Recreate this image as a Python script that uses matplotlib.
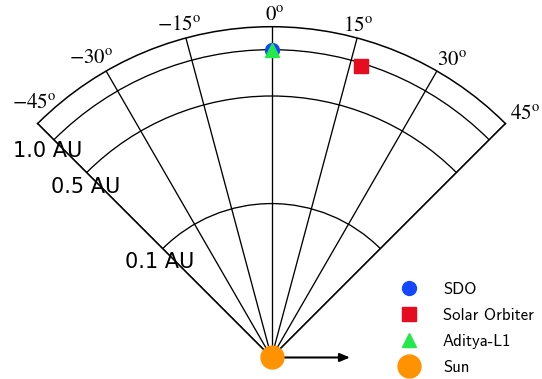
import numpy as np
import matplotlib
matplotlib.use("Agg")
import matplotlib.pyplot as plt
from matplotlib.ticker import NullLocator
from matplotlib.transforms import ScaledTranslation
from matplotlib.font_manager import FontProperties

plt.rcParams["mathtext.fontset"] = "stix"

# Spacecraft positions (heliocentric angle in degrees, distance in AU)
names = ["SDO", "Solar Orbiter", "Aditya-L1"]
theta_deg = [0.0, 17.0, 0.0]
dist_au = [1.0, 0.96, 0.99]
markers = ["o", "s", "^"]
colors = ["#1447ff", "#e60d20", "#25e84a"]
sun_color = "#ff9200"

# Grid definition
ring_au = [0.1, 0.5, 1.0]
ring_labels = ["0.1 AU", "0.5 AU", "1.0 AU"]
angle_ticks = [-45, -30, -15, 0, 15, 30, 45]
angle_labels = [r"$-45^{\mathrm{o}}$", r"$-30^{\mathrm{o}}$", r"$-15^{\mathrm{o}}$",
                r"$0^{\mathrm{o}}$", r"$15^{\mathrm{o}}$", r"$30^{\mathrm{o}}$",
                r"$45^{\mathrm{o}}$"]
# label nudges in pixels (x, y)
angle_nudge = [(-3, 12), (-15, 3), (-7, 4), (3, 2), (1, 3), (15, 1), (20, 1)]
ring_nudge = [(-3, -3), (-1, -4), (-6, -1)]

r_min, r_max = 0.01, 1.41

fig = plt.figure(figsize=(5.42, 3.79), dpi=100)
# square box: the wedge is fitted into it and centred
ax = fig.add_axes([0.0694, -0.124, 0.8631, 1.2343], projection="polar")
ax.set_theta_zero_location("N")
ax.set_theta_direction(-1)
ax.set_thetamin(-45)
ax.set_thetamax(45)
ax.set_rscale("log")
ax.set_rlim(r_min, r_max)
ax.set_yticks(ring_au)
ax.set_yticklabels([])
ax.yaxis.set_minor_locator(NullLocator())
ax.set_xticks(np.deg2rad(angle_ticks))
ax.set_xticklabels([])
ax.tick_params(length=0)
ax.grid(True, color="black", lw=0.95)
for sp in ax.spines.values():
    sp.set_color("black")
    sp.set_linewidth(1.1)

px = 1.0 / fig.dpi
for a, lab, (dx, dy) in zip(angle_ticks, angle_labels, angle_nudge):
    ax.text(np.deg2rad(a), r_max, lab, ha="center", va="bottom", fontsize=15,
            clip_on=False,
            transform=ax.transData + ScaledTranslation(dx * px, dy * px, fig.dpi_scale_trans))

for r, lab, (dx, dy) in zip(ring_au, ring_labels, ring_nudge):
    ax.text(np.deg2rad(-45), r, lab, ha="center", va="top", fontsize=15,
            family="DejaVu Sans", clip_on=False, zorder=4,
            transform=ax.transData + ScaledTranslation(dx * px, dy * px, fig.dpi_scale_trans))

for n, th, r, m, c in zip(names, theta_deg, dist_au, markers, colors):
    ax.plot(np.deg2rad(th), r, marker=m, color=c, ms=10, ls="none", label=n,
            zorder=5, clip_on=False)

ax.plot(0.0, r_min, marker="o", color=sun_color, ms=16.5, ls="none", label="Sun",
        zorder=7, clip_on=False)

ax.annotate("", xy=(0.0, r_min), xycoords="data", xytext=(56.5, 0),
            textcoords="offset points", annotation_clip=False, zorder=6,
            arrowprops=dict(arrowstyle="<|-,head_length=0.6,head_width=0.25",
                            color="black", lw=1.5, shrinkA=0, shrinkB=0))

handles, labels = ax.get_legend_handles_labels()
fig.legend(handles, labels, loc="center left", bbox_to_anchor=(0.7238, 0.1335),
           frameon=False, prop=FontProperties(family="cmss10", size=12),
           handlelength=2.0, handletextpad=1.04, borderpad=0, borderaxespad=0,
           labelspacing=0.66, numpoints=1)

fig.savefig("out.png", dpi=100)
